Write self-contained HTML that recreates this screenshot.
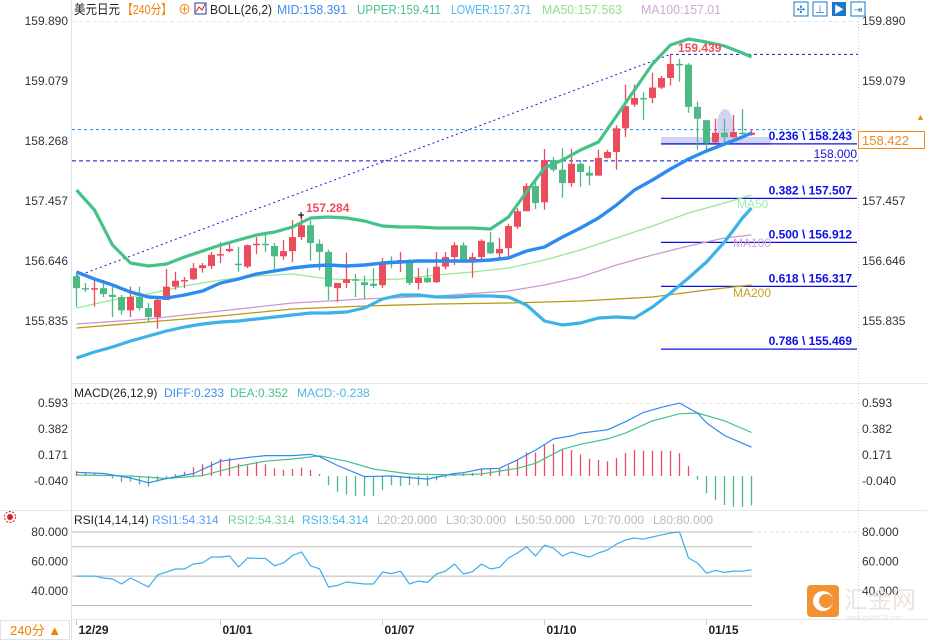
<!DOCTYPE html>
<html><head><meta charset="utf-8"><style>
html,body{margin:0;padding:0;background:#fff;}
svg{display:block;font-family:"Liberation Sans","Noto Sans CJK SC",sans-serif;}
</style></head><body>
<svg id="c" width="927" height="640" viewBox="0 0 927 640">
<rect x="0" y="0" width="927" height="640" fill="#fff"/>
<line x1="71.5" y1="0" x2="71.5" y2="640" stroke="#dde3ea"/>
<line x1="72" y1="383.5" x2="927" y2="383.5" stroke="#e4e8ee"/>
<line x1="0" y1="510.5" x2="927" y2="510.5" stroke="#e4e8ee"/>
<line x1="72" y1="619.5" x2="927" y2="619.5" stroke="#e4e8ee"/>
<line x1="858.5" y1="0" x2="858.5" y2="620" stroke="#ccc" stroke-dasharray="1,2"/>
<line x1="72" y1="21.5" x2="858" y2="21.5" stroke="#e6e6e6" stroke-dasharray="4,3"/>
<line x1="72" y1="403.5" x2="858" y2="403.5" stroke="#e6e6e6" stroke-dasharray="4,3"/>

<g font-size="13">
<text x="74" y="14" fill="#222" textLength="46" lengthAdjust="spacingAndGlyphs">美元日元</text>
<text x="122" y="14" fill="#f08000" textLength="50" lengthAdjust="spacingAndGlyphs">【240分】</text>
<text x="178" y="14" fill="#f08000">⊕</text>
<rect x="195" y="3" width="11" height="11" fill="#fff" stroke="#1a3c8c"/>
<polyline points="196,12 199,7 202,10 205,4" fill="none" stroke="#d02030"/>
<text x="210" y="14" fill="#222" textLength="62" lengthAdjust="spacingAndGlyphs">BOLL(26,2)</text>
<text x="277" y="14" fill="#3a8cf0" textLength="70" lengthAdjust="spacingAndGlyphs">MID:158.391</text>
<text x="357" y="14" fill="#45c38a" textLength="84" lengthAdjust="spacingAndGlyphs">UPPER:159.411</text>
<text x="451" y="14" fill="#48b8e8" textLength="80" lengthAdjust="spacingAndGlyphs">LOWER:157.371</text>
<text x="542" y="14" fill="#8fe08f" textLength="80" lengthAdjust="spacingAndGlyphs">MA50:157.563</text>
<text x="641" y="14" fill="#d0a8d8" textLength="80" lengthAdjust="spacingAndGlyphs">MA100:157.01</text>
</g>
<g>
<rect x="794" y="2" width="14" height="14" fill="#fff" stroke="#1a78c8"/>
<text x="801" y="13" font-size="10" text-anchor="middle" fill="#1a78c8">✣</text>
<rect x="813" y="2" width="14" height="14" fill="#fff" stroke="#1a78c8"/>
<text x="820" y="13" font-size="10" text-anchor="middle" fill="#1a78c8">⊥</text>
<rect x="832" y="2" width="14" height="14" fill="#1a78c8"/>
<text x="839" y="13" font-size="10" text-anchor="middle" fill="#fff">▶</text>
<rect x="851" y="2" width="14" height="14" fill="#fff" stroke="#1a78c8"/>
<text x="858" y="13" font-size="10" text-anchor="middle" fill="#1a78c8">⇥</text>
</g>

<g id="main"></g>
<g id="macd"></g>
<g id="rsi"></g>
<g id="axes"></g>

<g font-size="12">
<text x="74" y="397" fill="#222">MACD(26,12,9)</text>
<text x="164" y="397" fill="#3a8cf0">DIFF:0.233</text>
<text x="230" y="397" fill="#45c38a">DEA:0.352</text>
<text x="297" y="397" fill="#48b8e8">MACD:-0.238</text>
</g>
<g font-size="12">
<text x="74" y="524" fill="#222">RSI(14,14,14)</text>
<text x="152" y="524" fill="#5a9cf0">RSI1:54.314</text>
<text x="228" y="524" fill="#6fd09a">RSI2:54.314</text>
<text x="302" y="524" fill="#48b8e8">RSI3:54.314</text>
<text x="377" y="524" fill="#bbb">L20:20.000</text>
<text x="446" y="524" fill="#bbb">L30:30.000</text>
<text x="515" y="524" fill="#bbb">L50:50.000</text>
<text x="584" y="524" fill="#bbb">L70:70.000</text>
<text x="653" y="524" fill="#bbb">L80:80.000</text>
</g>
<g>
<circle cx="10" cy="517" r="3" fill="#e02020"/>
<circle cx="10" cy="517" r="5.5" fill="none" stroke="#e02020" stroke-dasharray="2,1.5"/>
</g>
<rect x="0.5" y="620.5" width="69" height="19" fill="#fff" stroke="#dde3ea"/>
<text x="10" y="635" font-size="13" fill="#f08000">240分 ▲</text>
<g opacity="0.85">
<rect x="807" y="585" width="32" height="32" rx="4" fill="#f08010"/>
<circle cx="823" cy="601" r="10" fill="#fff"/>
<circle cx="826" cy="601" r="7" fill="#f08010"/>
<text x="844" y="608" font-size="24" fill="#e8e0d8">汇金网</text>
<text x="846" y="620" font-size="7" fill="#ddd">www.gold678.com</text>
</g>
</svg>
<script>
const candleOpen = [156.44,156.28,156.27,156.28,156.19,156.16,155.98,156.16,156.01,155.89,156.12,156.30,156.38,156.40,156.55,156.58,156.73,156.78,156.61,156.57,156.86,156.88,156.85,156.71,156.78,156.97,157.13,156.88,156.77,156.28,156.35,156.40,156.36,156.34,156.32,156.65,156.62,156.63,156.35,156.42,156.36,156.57,156.70,156.86,156.66,156.70,156.90,156.75,156.82,157.11,157.32,157.66,157.44,158.01,157.88,157.70,157.96,157.84,157.80,158.04,158.12,158.44,158.76,158.85,158.85,158.99,159.12,159.31,159.30,158.73,158.55,158.25,158.38,158.32,158.38,158.35];
const candleHigh = [156.49,156.35,156.39,156.39,156.30,156.19,156.30,156.30,156.08,156.17,156.54,156.50,156.43,156.62,156.62,156.77,156.90,156.89,156.84,156.87,156.97,157.00,156.89,156.93,157.20,157.28,157.20,156.94,156.80,156.35,156.76,156.47,156.45,156.55,156.69,156.71,156.77,156.67,156.55,156.55,156.77,156.77,156.90,156.90,156.76,156.94,157.04,156.96,157.15,157.36,157.70,157.77,158.16,158.05,158.17,158.16,158.01,157.93,158.15,158.15,158.48,159.03,159.03,158.93,159.19,159.15,159.44,159.38,159.32,158.80,158.55,158.57,158.57,158.62,158.70,158.42];
const candleLow = [156.03,156.23,156.03,156.16,155.89,155.92,155.89,155.98,155.82,155.73,156.12,156.26,156.28,156.39,156.49,156.54,156.62,156.76,156.50,156.55,156.74,156.77,156.52,156.66,156.63,156.93,156.65,156.52,156.12,156.09,156.28,156.16,156.13,156.28,156.28,156.55,156.50,156.32,156.26,156.35,156.35,156.53,156.59,156.62,156.42,156.66,156.74,156.69,156.69,157.08,157.32,157.35,157.34,157.85,157.50,157.65,157.65,157.67,157.80,158.03,157.88,158.32,158.73,158.55,158.78,158.97,159.02,159.07,158.65,158.15,158.12,158.24,158.21,158.31,158.35,158.34];
const candleClose = [156.28,156.26,156.28,156.20,156.16,155.98,156.16,156.01,155.89,156.12,156.30,156.38,156.39,156.55,156.59,156.73,156.74,156.81,156.59,156.86,156.88,156.87,156.71,156.78,156.97,157.13,156.89,156.77,156.30,156.35,156.40,156.38,156.32,156.31,156.62,156.63,156.66,156.35,156.42,156.36,156.57,156.70,156.86,156.63,156.70,156.92,156.75,156.81,157.12,157.32,157.66,157.43,158.01,157.88,157.70,157.96,157.85,157.80,158.04,158.12,158.44,158.74,158.85,158.84,158.99,159.12,159.31,159.30,158.73,158.57,158.24,158.38,158.32,158.39,158.36,158.38];
const bandIdx = [0,2,4,6,8,10,12,14,16,18,20,22,24,26,28,30,32,34,36,38,40,42,44,46,48,50,52,54,56,58,60,62,64,66,68,70,72,74,75];
const upperY = [190,210,245,263,266,264,257,251,245,240,235,232,227,218,217,218,221,226,227,227,228,228,228,229,217,192,168,160,150,142,116,90,64,45,39,42,46,53,57];
const midY = [272,279,285,292,297,298,295,291,283,279,274,271,268,266,265,266,265,263,262,261,261,261,261,260,258,251,247,237,228,218,205,190,180,169,159,151,144,137,133];
const lowerY = [358,352,347,341,336,331,327,324,322,321,319,317,315,313,313,312,308,299,295,295,297,297,296,296,297,305,321,325,323,318,317,318,307,293,278,262,242,218,208];
const ma50Idx = [0,4,8,12,16,20,24,28,32,36,40,44,48,52,56,60,64,68,72,75];
const ma50Y = [308,300,294,286,280,276,274,279,280,279,275,272,268,260,250,238,226,213,203,195];
const ma100Idx = [0,8,16,24,32,40,48,52,56,60,64,68,72,75];
const ma100Y = [324,319,311,303,299,296,291,285,277,265,255,246,238,235];
const ma200Idx = [0,8,16,24,32,40,48,56,64,70,75];
const ma200Y = [328,322,316,309,306,304,303,301,297,290,285];
const macdHist = [0.04,0.025,0.02,0.01,-0.02,-0.05,-0.045,-0.07,-0.085,-0.045,-0.02,0.015,0.035,0.07,0.095,0.115,0.14,0.145,0.10,0.085,0.115,0.095,0.062,0.05,0.057,0.068,0.05,0.015,-0.075,-0.13,-0.15,-0.16,-0.16,-0.16,-0.115,-0.075,-0.08,-0.075,-0.075,-0.08,-0.035,-0.015,0.02,0.02,0.025,0.06,0.055,0.057,0.085,0.13,0.19,0.19,0.25,0.26,0.22,0.21,0.175,0.14,0.13,0.12,0.145,0.185,0.21,0.205,0.205,0.205,0.205,0.185,0.08,-0.03,-0.14,-0.195,-0.235,-0.25,-0.25,-0.238];
const diffIdx = [0,3,6,8,10,13,16,19,21,24,26,27,29,32,35,39,42,43,45,47,49,51,53,55,56,59,61,63,65,67,69,70,72,74,75];
const diffVal = [0.03,0.02,-0.015,-0.055,-0.02,0.02,0.12,0.15,0.165,0.165,0.175,0.157,0.085,-0.005,0,-0.025,0.02,0.027,0.057,0.062,0.13,0.21,0.30,0.325,0.347,0.374,0.44,0.515,0.556,0.59,0.51,0.43,0.328,0.265,0.233];
const deaIdx = [0,6,10,14,18,21,24,27,30,33,37,42,45,49,51,54,56,59,61,64,67,69,72,75];
const deaVal = [0.008,0,-0.02,0.003,0.08,0.12,0.138,0.163,0.12,0.057,0.016,0.008,0.016,0.062,0.103,0.217,0.257,0.30,0.347,0.447,0.504,0.51,0.447,0.352];
const rsiIdx = [0,2,3,4,5,6,8,9,11,12,13,14,15,16,17,18,19,21,22,23,24,25,26,27,28,29,30,32,33,34,35,36,37,38,39,40,41,42,43,44,45,46,47,48,49,50,51,52,53,54,55,56,57,58,59,60,61,62,63,64,65,66,67,68,69,70,71,72,73,74,75];
const rsiVal = [50,50,48.7,48,44.6,48.7,42.6,50.7,54.8,54.8,58.2,59,63,63,63.7,56.2,62.3,62,57,59,64,66.4,57,55,42.6,43.7,46,44.6,44.6,52.8,51.7,53.4,44.6,46.6,45.7,51.4,53.4,58.2,51.4,53,58.2,54.8,56,62.3,65.7,70,63.7,71,69,63.7,66.4,64.5,63,65.7,67.8,71.8,74.6,75.9,75.2,76.6,78,79.3,80,62.3,58.9,52,53.9,52.5,53.4,53.3,54.3];
const priceTicks = ["159.890","159.079","158.268","157.457","156.646","155.835"];
const macdTicks = ["0.593","0.382","0.171","-0.040"];
const rsiTicks = ["80.000","60.000","40.000"];
const rsiLines = [80,70,50,30];
const fibLabels = ["0.236 \\ 158.243","0.382 \\ 157.507","0.500 \\ 156.912","0.618 \\ 156.317","0.786 \\ 155.469"];
const fibPrices = [158.243,157.507,156.912,156.317,155.469];
const dateLabels = ["12/29","01/01","01/07","01/10","01/15"];
const dateIdx = [0,16,34,52,70];

const NS='http://www.w3.org/2000/svg';
const xOf = i => 76.5 + 9*i;
const yP = p => 21 + (159.890 - p) * 74;
const pOfY = y => 159.890 - (y-21)/74;
const yM = v => 476 - v * 123.5;
const yR = v => 532 + (80 - v) * 1.47;
function el(tag, attrs, parent){const e=document.createElementNS(NS,tag);for(const k in attrs)e.setAttribute(k,attrs[k]);parent.appendChild(e);return e;}
const main=document.getElementById('main'), macd=document.getElementById('macd'), rsi=document.getElementById('rsi'), axes=document.getElementById('axes');

let t=el('line',{x1:xOf(0),y1:yP(156.44),x2:xOf(66),y2:yP(159.439),stroke:'#1515d0','stroke-dasharray':'2,3','stroke-width':1},main);


t=el('line',{x1:670,y1:yP(159.439),x2:858,y2:yP(159.439),stroke:'#1515d0','stroke-dasharray':'3,3'},main);


t=el('line',{x1:72,y1:yP(158.422),x2:858,y2:yP(158.422),stroke:'#2080ee','stroke-dasharray':'3,3'},main);


t=el('line',{x1:72,y1:yP(158.0),x2:858,y2:yP(158.0),stroke:'#1515d0','stroke-dasharray':'4,3'},main);


t=el('text',{x:857,y:yP(158.0)-3,'text-anchor':'end','font-size':12,fill:'#1515d0'},main);
t.textContent='158.000';


t=el('rect',{x:661,y:137,width:110,height:8,fill:'#c8c8f4',opacity:0.8},main);


t=el('ellipse',{cx:725,cy:126,rx:8,ry:17,fill:'#c8c8f4',opacity:0.8},main);


fibPrices.forEach((p,k)=>{
  const l=el('line',{x1:661,y1:yP(p)+1,x2:857,y2:yP(p)+1,stroke:'#1010e0','stroke-width':1.3},main);
  
  
  const tx=el('text',{x:852,y:yP(p)-3,'text-anchor':'end','font-size':12,'font-weight':'bold',fill:'#1010e0'},main);
  tx.textContent=fibLabels[k];
  
  
});
function pathFrom(idx, vals, yf, conv){return idx.map((i,k)=>(k?'L':'M')+xOf(i).toFixed(1)+','+yf(conv?pOfY(vals[k]):vals[k]).toFixed(1)).join(' ');}
function line(g,idx,vals,yf,conv,color,w,name){const p=el('path',{d:pathFrom(idx,vals,yf,conv),fill:'none',stroke:color,'stroke-width':w,'stroke-linejoin':'round'},g);return p;}
line(main,ma200Idx,ma200Y,yP,true,'#b89a10',1.3,'ma200-line');
line(main,ma100Idx,ma100Y,yP,true,'#cc99cc',1.3,'ma100-line');
line(main,ma50Idx,ma50Y,yP,true,'#95e895',1.3,'ma50-line');
for(let i=0;i<candleOpen.length;i++){
  const up=candleClose[i]>=candleOpen[i]; const col=up?'#ec4c5c':'#4dba86';
  const g=el('g',{},main);
  
  
  el('line',{x1:xOf(i),x2:xOf(i),y1:yP(candleHigh[i]),y2:yP(candleLow[i]),stroke:col,'stroke-width':1.3},g);
  const top=yP(Math.max(candleOpen[i],candleClose[i])), bot=yP(Math.min(candleOpen[i],candleClose[i]));
  el('rect',{x:xOf(i)-3.5,y:top,width:7,height:Math.max(1.5,bot-top),fill:col},g);
}
line(main,bandIdx,lowerY,yP,true,'#3bb2e8',3.2,'boll-lower');
line(main,bandIdx,midY,yP,true,'#2f8af0',3.4,'boll-mid');
line(main,bandIdx,upperY,yP,true,'#44c287',3.2,'boll-upper');
[['157.284',306,212,'#ec4c5c','high-label-1'],['159.439',678,52,'#ec4c5c','high-label-2'],['MA50',737,208,'#a8eca8','ma50-label'],['MA100',733,247,'#d2a6d2','ma100-label'],['MA200',733,297,'#c8a020','ma200-label']].forEach(a=>{
  const tx=el('text',{x:a[1],y:a[2],'font-size':12,'font-weight':a[4].startsWith('high')?'bold':'normal',fill:a[3]},main);
  tx.textContent=a[0];
  
  
});
el('path',{d:'M298,215 h6 M301,212 v6',stroke:'#000','stroke-width':1},main);
priceTicks.forEach(s=>{
  const y=yP(parseFloat(s));
  let a=el('text',{x:68,y:y+4,'text-anchor':'end','font-size':12,fill:'#333'},axes); a.textContent=s;
  
  
  let b=el('text',{x:862,y:y+4,'font-size':12,fill:'#333'},axes); b.textContent=s;
  
  
});
t=el('rect',{x:858.5,y:131.5,width:66,height:17,fill:'#fff',stroke:'#f08a20'},axes);


t=el('text',{x:862,y:145,'font-size':13,fill:'#f08a20'},axes); t.textContent='158.422';


t=el('text',{x:916,y:120,'font-size':9,fill:'#f08a20'},axes); t.textContent='▲';



macdHist.forEach((v,i)=>{
  const b=el('line',{x1:xOf(i),x2:xOf(i),y1:yM(0),y2:Math.min(yM(v),509),stroke:v>=0?'#ec4c5c':'#4dba86','stroke-width':1.3},macd);
  
  
});
line(macd,deaIdx,deaVal,yM,false,'#44c287',1.2,'dea-line');
line(macd,diffIdx,diffVal,yM,false,'#2f8af0',1.2,'diff-line');
macdTicks.forEach(s=>{
  const y=yM(parseFloat(s));
  let a=el('text',{x:68,y:y+4,'text-anchor':'end','font-size':12,fill:'#333'},axes); a.textContent=s;
  
  
  let b=el('text',{x:862,y:y+4,'font-size':12,fill:'#333'},axes); b.textContent=s;
  
  
});

rsiLines.forEach(v=>{
  const l=el('line',{x1:72,x2:752,y1:yR(v),y2:yR(v),stroke:'#bbb','stroke-width':1},rsi);
  
  
});
el('line',{x1:752,x2:858,y1:yR(80),y2:yR(80),stroke:'#ddd','stroke-dasharray':'3,3'},rsi);
line(rsi,rsiIdx,rsiVal,yR,false,'#3ab0e8',1.2,'rsi-line');
rsiTicks.forEach(s=>{
  const y=yR(parseFloat(s));
  let a=el('text',{x:68,y:y+4,'text-anchor':'end','font-size':12,fill:'#333'},axes); a.textContent=s;
  
  
  let b=el('text',{x:862,y:y+4,'font-size':12,fill:'#333'},axes); b.textContent=s;
  
  
});
dateIdx.forEach((i,k)=>{
  el('line',{x1:xOf(i),x2:xOf(i),y1:620,y2:625,stroke:'#ccc'},axes);
  const a=el('text',{x:xOf(i)+2,y:634,'font-size':12,'font-weight':'bold',fill:'#222'},axes);
  a.textContent=dateLabels[k];
  
  
});
</script>
</body></html>
